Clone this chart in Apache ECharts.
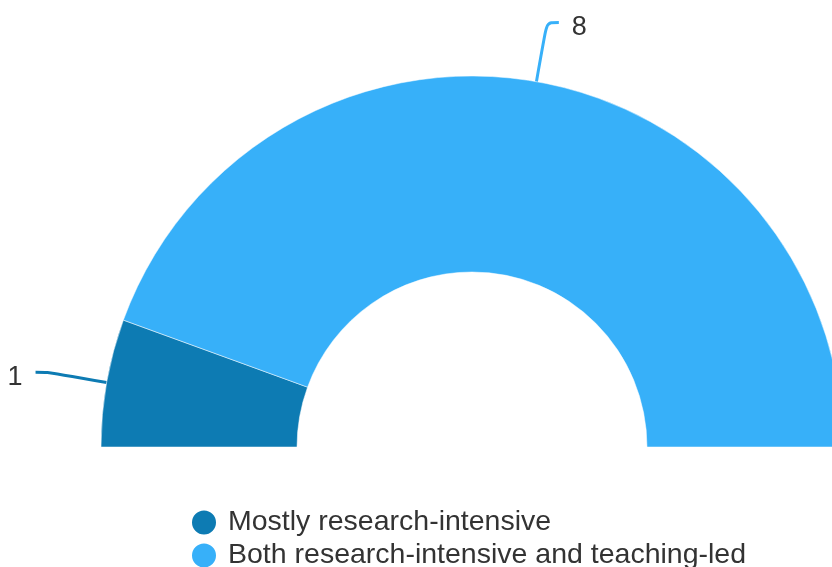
<!DOCTYPE html>
<html>
<head>
<meta charset="utf-8">
<script src="https://cdn.jsdelivr.net/npm/echarts@6/dist/echarts.min.js"></script>
<style>
  html, body { margin: 0; padding: 0; background: #fff; }
  #chart { width: 832px; height: 567px; }
</style>
</head>
<body>
<div id="chart"></div>
<script>
// Institution types and their counts
const categories = ['Mostly research-intensive', 'Both research-intensive and teaching-led'];
const counts = [1, 8];
const colors = ['#0d7bb3', '#37b0f9'];

const chart = echarts.init(document.getElementById('chart'));

const pieData = categories.map((name, i) => ({
  name: name,
  value: counts[i],
  itemStyle: { color: colors[i] }
}));

chart.setOption({
  animation: false,
  legend: {
    orient: 'vertical',
    left: 185,
    top: 503,
    height: 90,
    itemWidth: 26,
    itemHeight: 26,
    itemGap: 4,
    icon: 'circle',
    textStyle: { fontFamily: 'Liberation Sans, Arial, sans-serif', fontSize: 28.5, color: '#333', padding: [0, 0, 0, 6] },
    data: categories
  },
  series: [{
    type: 'pie',
    center: [472, 447],
    radius: [175, 371],
    startAngle: 180,
    endAngle: 0,
    clockwise: true,
    avoidLabelOverlap: false,
    itemStyle: { borderColor: '#fff', borderWidth: 0.5 },
    label: {
      show: true,
      formatter: '{c}',
      overflow: 'none',
      fontFamily: 'Liberation Sans, Arial, sans-serif',
      fontSize: 27,
      color: '#333',
      distanceToLabelLine: 13
    },
    labelLayout: { dy: 5 },
    labelLine: {
      show: true,
      smooth: true,
      length: 60,
      length2: 12,
      lineStyle: { width: 3 }
    },
    data: pieData
  }]
});
</script>
</body>
</html>
